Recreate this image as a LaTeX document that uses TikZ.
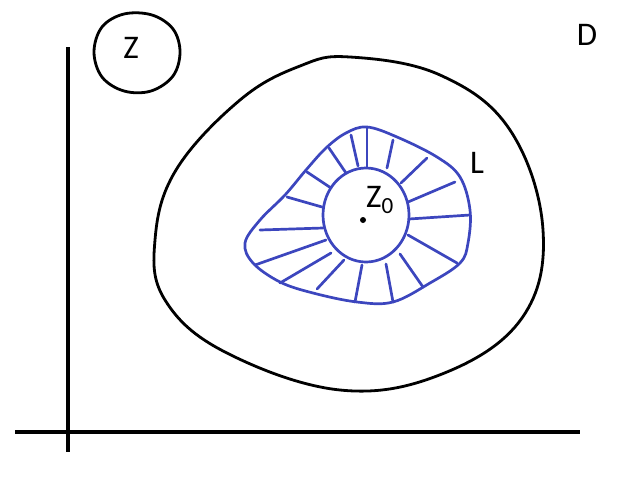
\documentclass[tikz,border=0pt]{standalone}
\usepackage{fontspec}
\setmainfont{Carlito}
\definecolor{pen}{RGB}{60,70,190}
\begin{document}
\begin{tikzpicture}[
    x=1pt, y=-1pt,
    axis/.style={line width=3.6pt},
    curve/.style={line width=2.8pt, line join=round},
    bluepen/.style={line width=2.7pt, pen, line cap=round, line join=round},
    lbl/.style={font=\fontsize{33}{38}\selectfont, inner sep=0pt}
]
\useasboundingbox (0,0) rectangle (626,477);
% Axes
\draw[axis] (68,47) -- (68,452);
\draw[axis] (15,432) -- (580,432);
% Small circle Z
\draw[curve] plot[smooth cycle, tension=0.6] coordinates
  {(180,52) (173,29) (152,15) (124,14) (102,27) (94,52) (102,77)
   (124,91) (151,91) (173,76)};
\node[lbl] (z) at (131,48) {Z};
% Region D
\node[lbl] (d) at (587,35) {D};
\draw[curve] plot[smooth cycle, tension=0.65] coordinates
  {(350,57) (440,75) (510,130) (543,230) (522,318) (442,374) (340,390)
   (225,352) (165,300) (155,240) (176,170) (240,100) (300,66)};
% Region L
\draw[bluepen] plot[smooth cycle, tension=0.6] coordinates
  {(367,127) (397,137) (437,157) (460,177) (470,210) (468,243) (460,263)
   (430,283) (393,302) (357,302) (313,293) (280,282) (253,263) (245,243)
   (260,220) (285,195) (306,170) (326,148) (346,133)};
\draw[bluepen] (366,215) ellipse[x radius=43, y radius=47];
% Hatching
\foreach \xa/\ya/\xb/\yb in {351/135/358/166, 367/128/367/167, 393/140/387/168,
    329/148/346/173, 307/172/331/188, 287/197/322/207, 260/230/323/228,
    255/265/326/240, 280/283/331/253, 317/289/344/260, 355/302/362/265,
    393/302/386/264, 423/287/400/254, 457/263/408/235, 470/215/409/219,
    455/182/408/202, 427/158/401/183}
  \draw[bluepen] (\xa,\ya) -- (\xb,\yb);
% Point z0
\fill (363,220) circle[radius=3];
\node[lbl, anchor=south west] (z0) at (366,214) {Z\textsubscript{0}};
\node[lbl] (l) at (477,163) {L};
\end{tikzpicture}
\end{document}
